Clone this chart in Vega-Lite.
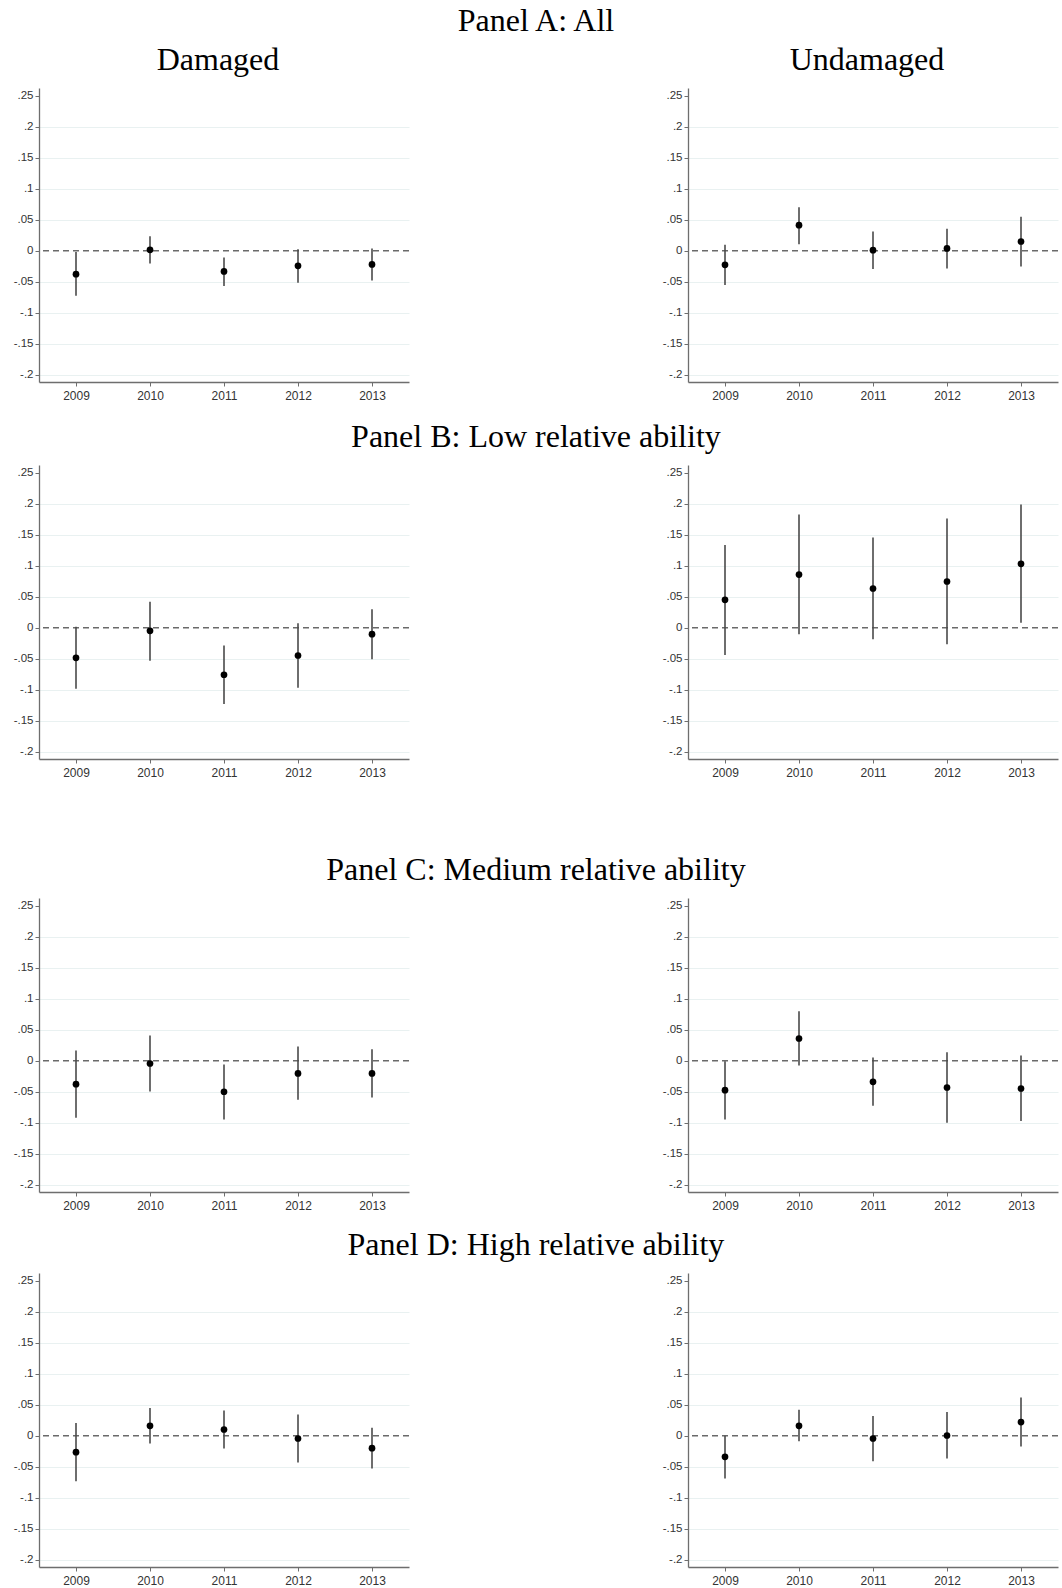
{
  "$schema": "https://vega.github.io/schema/vega-lite/v6.json",
  "padding": {"left": 13, "top": 5, "right": 2, "bottom": 2},
  "background": "white",
  "config": {
    "view": {"stroke": null},
    "title": {"font": "Liberation Serif", "fontSize": 32, "fontWeight": "normal", "color": "#000000"},
    "axis": {
      "labelFont": "Liberation Sans",
      "labelColor": "#333333",
      "domainColor": "#6e6e6e",
      "domainWidth": 1.3,
      "tickColor": "#6e6e6e",
      "tickSize": 4,
      "title": null
    },
    "axisX": {"labelFontSize": 12, "labelPadding": 4, "grid": false},
    "axisY": {"labelFontSize": 11.5, "labelPadding": 2, "grid": true, "gridColor": "#e9f1f1", "gridWidth": 1.2, "labelOverlap": false}
  },
  "datasets": {
    "est": [
      {"panel": "A", "group": "Damaged", "year": 2009, "est": -0.0376, "lo": -0.0725, "hi": -0.002},
      {"panel": "A", "group": "Damaged", "year": 2010, "est": 0.0016, "lo": -0.0204, "hi": 0.0236},
      {"panel": "A", "group": "Damaged", "year": 2011, "est": -0.0333, "lo": -0.0569, "hi": -0.0107},
      {"panel": "A", "group": "Damaged", "year": 2012, "est": -0.0242, "lo": -0.0516, "hi": 0.0027},
      {"panel": "A", "group": "Damaged", "year": 2013, "est": -0.022, "lo": -0.0478, "hi": 0.0038},
      {"panel": "A", "group": "Undamaged", "year": 2009, "est": -0.0226, "lo": -0.0553, "hi": 0.0097},
      {"panel": "A", "group": "Undamaged", "year": 2010, "est": 0.0414, "lo": 0.0107, "hi": 0.0704},
      {"panel": "A", "group": "Undamaged", "year": 2011, "est": 0.001, "lo": -0.0295, "hi": 0.0311},
      {"panel": "A", "group": "Undamaged", "year": 2012, "est": 0.0038, "lo": -0.0285, "hi": 0.0354},
      {"panel": "A", "group": "Undamaged", "year": 2013, "est": 0.015, "lo": -0.0252, "hi": 0.0548},
      {"panel": "B", "group": "Damaged", "year": 2009, "est": -0.0483, "lo": -0.0983, "hi": 0.0016},
      {"panel": "B", "group": "Damaged", "year": 2010, "est": -0.0048, "lo": -0.0532, "hi": 0.0419},
      {"panel": "B", "group": "Damaged", "year": 2011, "est": -0.0757, "lo": -0.123, "hi": -0.0285},
      {"panel": "B", "group": "Damaged", "year": 2012, "est": -0.0446, "lo": -0.0967, "hi": 0.0075},
      {"panel": "B", "group": "Damaged", "year": 2013, "est": -0.0102, "lo": -0.0505, "hi": 0.0301},
      {"panel": "B", "group": "Undamaged", "year": 2009, "est": 0.0451, "lo": -0.044, "hi": 0.1337},
      {"panel": "B", "group": "Undamaged", "year": 2010, "est": 0.0859, "lo": -0.0102, "hi": 0.1826},
      {"panel": "B", "group": "Undamaged", "year": 2011, "est": 0.0634, "lo": -0.0183, "hi": 0.1455},
      {"panel": "B", "group": "Undamaged", "year": 2012, "est": 0.0747, "lo": -0.0263, "hi": 0.1762},
      {"panel": "B", "group": "Undamaged", "year": 2013, "est": 0.1031, "lo": 0.0081, "hi": 0.1987},
      {"panel": "C", "group": "Damaged", "year": 2009, "est": -0.0376, "lo": -0.0918, "hi": 0.0166},
      {"panel": "C", "group": "Damaged", "year": 2010, "est": -0.0043, "lo": -0.0494, "hi": 0.0408},
      {"panel": "C", "group": "Damaged", "year": 2011, "est": -0.0499, "lo": -0.0945, "hi": -0.0059},
      {"panel": "C", "group": "Damaged", "year": 2012, "est": -0.0204, "lo": -0.0628, "hi": 0.0231},
      {"panel": "C", "group": "Damaged", "year": 2013, "est": -0.0204, "lo": -0.0591, "hi": 0.0188},
      {"panel": "C", "group": "Undamaged", "year": 2009, "est": -0.0473, "lo": -0.0945, "hi": -0.0005},
      {"panel": "C", "group": "Undamaged", "year": 2010, "est": 0.036, "lo": -0.0075, "hi": 0.08},
      {"panel": "C", "group": "Undamaged", "year": 2011, "est": -0.0338, "lo": -0.0725, "hi": 0.0054},
      {"panel": "C", "group": "Undamaged", "year": 2012, "est": -0.043, "lo": -0.0999, "hi": 0.014},
      {"panel": "C", "group": "Undamaged", "year": 2013, "est": -0.0446, "lo": -0.0972, "hi": 0.0086},
      {"panel": "D", "group": "Damaged", "year": 2009, "est": -0.0264, "lo": -0.0732, "hi": 0.0205},
      {"panel": "D", "group": "Damaged", "year": 2010, "est": 0.0161, "lo": -0.0124, "hi": 0.0447},
      {"panel": "D", "group": "Damaged", "year": 2011, "est": 0.0102, "lo": -0.0205, "hi": 0.0409},
      {"panel": "D", "group": "Damaged", "year": 2012, "est": -0.0043, "lo": -0.0431, "hi": 0.0344},
      {"panel": "D", "group": "Damaged", "year": 2013, "est": -0.0199, "lo": -0.0527, "hi": 0.0129},
      {"panel": "D", "group": "Undamaged", "year": 2009, "est": -0.0339, "lo": -0.0689, "hi": 0.0},
      {"panel": "D", "group": "Undamaged", "year": 2010, "est": 0.0161, "lo": -0.0086, "hi": 0.042},
      {"panel": "D", "group": "Undamaged", "year": 2011, "est": -0.0043, "lo": -0.0409, "hi": 0.0318},
      {"panel": "D", "group": "Undamaged", "year": 2012, "est": 0.0005, "lo": -0.0366, "hi": 0.0382},
      {"panel": "D", "group": "Undamaged", "year": 2013, "est": 0.0221, "lo": -0.0172, "hi": 0.0619}
    ],
    "zero": [{"ref": 0}]
  },
  "spacing": 76,
  "vconcat": [
    {
      "spacing": 20,
      "vconcat": [
        {
          "title": {"text": "Panel A: All", "anchor": "middle", "frame": "bounds", "offset": 6},
          "spacing": 252,
          "hconcat": [
            {
              "title": {"text": "Damaged", "anchor": "middle", "frame": "group", "dx": -6, "offset": 11},
              "width": 370, "height": 294,
              "layer": [
                {"data": {"name": "zero"}, "mark": {"type": "rule", "color": "#6a6a6a", "strokeWidth": 1.4, "strokeDash": [6, 4]}, "encoding": {"y": {"field": "ref", "type": "quantitative", "scale": {"domain": [-0.2115, 0.2625], "nice": false, "zero": false}, "axis": {"values": [-0.2, -0.15, -0.1, -0.05, 0, 0.05, 0.1, 0.15, 0.2, 0.25], "labelExpr": "datum.value == 0 ? '0' : (datum.value < 0 ? '-' : '') + substring(format(abs(datum.value), '.2~f'), 1)", "gridOpacity": {"condition": {"test": "datum.value > 0.24 || datum.value == 0", "value": 0}, "value": 1}}}}},
                {"data": {"name": "est"}, "transform": [{"filter": "datum.panel == 'A' && datum.group == 'Damaged'"}], "mark": {"type": "rule", "color": "#4a4a4a", "strokeWidth": 1.6}, "encoding": {"x": {"field": "year", "type": "quantitative", "scale": {"domain": [2008.5, 2013.5], "nice": false, "zero": false}, "axis": {"values": [2009, 2010, 2011, 2012, 2013], "format": "d"}}, "y": {"field": "lo", "type": "quantitative", "axis": {"values": [-0.2, -0.15, -0.1, -0.05, 0, 0.05, 0.1, 0.15, 0.2, 0.25], "labelExpr": "datum.value == 0 ? '0' : (datum.value < 0 ? '-' : '') + substring(format(abs(datum.value), '.2~f'), 1)", "gridOpacity": {"condition": {"test": "datum.value > 0.24 || datum.value == 0", "value": 0}, "value": 1}}}, "y2": {"field": "hi"}}},
                {"data": {"name": "est"}, "transform": [{"filter": "datum.panel == 'A' && datum.group == 'Damaged'"}], "mark": {"type": "point", "filled": true, "color": "#000000", "opacity": 1, "size": 45}, "encoding": {"x": {"field": "year", "type": "quantitative", "axis": {"values": [2009, 2010, 2011, 2012, 2013], "format": "d"}}, "y": {"field": "est", "type": "quantitative", "axis": {"values": [-0.2, -0.15, -0.1, -0.05, 0, 0.05, 0.1, 0.15, 0.2, 0.25], "labelExpr": "datum.value == 0 ? '0' : (datum.value < 0 ? '-' : '') + substring(format(abs(datum.value), '.2~f'), 1)", "gridOpacity": {"condition": {"test": "datum.value > 0.24 || datum.value == 0", "value": 0}, "value": 1}}}}}
              ]
            },
            {
              "title": {"text": "Undamaged", "anchor": "middle", "frame": "group", "dx": -6, "offset": 11},
              "width": 370, "height": 294,
              "layer": [
                {"data": {"name": "zero"}, "mark": {"type": "rule", "color": "#6a6a6a", "strokeWidth": 1.4, "strokeDash": [6, 4]}, "encoding": {"y": {"field": "ref", "type": "quantitative", "scale": {"domain": [-0.2115, 0.2625], "nice": false, "zero": false}, "axis": {"values": [-0.2, -0.15, -0.1, -0.05, 0, 0.05, 0.1, 0.15, 0.2, 0.25], "labelExpr": "datum.value == 0 ? '0' : (datum.value < 0 ? '-' : '') + substring(format(abs(datum.value), '.2~f'), 1)", "gridOpacity": {"condition": {"test": "datum.value > 0.24 || datum.value == 0", "value": 0}, "value": 1}}}}},
                {"data": {"name": "est"}, "transform": [{"filter": "datum.panel == 'A' && datum.group == 'Undamaged'"}], "mark": {"type": "rule", "color": "#4a4a4a", "strokeWidth": 1.6}, "encoding": {"x": {"field": "year", "type": "quantitative", "scale": {"domain": [2008.5, 2013.5], "nice": false, "zero": false}, "axis": {"values": [2009, 2010, 2011, 2012, 2013], "format": "d"}}, "y": {"field": "lo", "type": "quantitative", "axis": {"values": [-0.2, -0.15, -0.1, -0.05, 0, 0.05, 0.1, 0.15, 0.2, 0.25], "labelExpr": "datum.value == 0 ? '0' : (datum.value < 0 ? '-' : '') + substring(format(abs(datum.value), '.2~f'), 1)", "gridOpacity": {"condition": {"test": "datum.value > 0.24 || datum.value == 0", "value": 0}, "value": 1}}}, "y2": {"field": "hi"}}},
                {"data": {"name": "est"}, "transform": [{"filter": "datum.panel == 'A' && datum.group == 'Undamaged'"}], "mark": {"type": "point", "filled": true, "color": "#000000", "opacity": 1, "size": 45}, "encoding": {"x": {"field": "year", "type": "quantitative", "axis": {"values": [2009, 2010, 2011, 2012, 2013], "format": "d"}}, "y": {"field": "est", "type": "quantitative", "axis": {"values": [-0.2, -0.15, -0.1, -0.05, 0, 0.05, 0.1, 0.15, 0.2, 0.25], "labelExpr": "datum.value == 0 ? '0' : (datum.value < 0 ? '-' : '') + substring(format(abs(datum.value), '.2~f'), 1)", "gridOpacity": {"condition": {"test": "datum.value > 0.24 || datum.value == 0", "value": 0}, "value": 1}}}}}
              ]
            }
          ]
        },
        {
          "title": {"text": "Panel B: Low relative ability", "anchor": "middle", "frame": "bounds", "offset": 11},
          "spacing": 252,
          "hconcat": [
            {
              "width": 370, "height": 294,
              "layer": [
                {"data": {"name": "zero"}, "mark": {"type": "rule", "color": "#6a6a6a", "strokeWidth": 1.4, "strokeDash": [6, 4]}, "encoding": {"y": {"field": "ref", "type": "quantitative", "scale": {"domain": [-0.2115, 0.2625], "nice": false, "zero": false}, "axis": {"values": [-0.2, -0.15, -0.1, -0.05, 0, 0.05, 0.1, 0.15, 0.2, 0.25], "labelExpr": "datum.value == 0 ? '0' : (datum.value < 0 ? '-' : '') + substring(format(abs(datum.value), '.2~f'), 1)", "gridOpacity": {"condition": {"test": "datum.value > 0.24 || datum.value == 0", "value": 0}, "value": 1}}}}},
                {"data": {"name": "est"}, "transform": [{"filter": "datum.panel == 'B' && datum.group == 'Damaged'"}], "mark": {"type": "rule", "color": "#4a4a4a", "strokeWidth": 1.6}, "encoding": {"x": {"field": "year", "type": "quantitative", "scale": {"domain": [2008.5, 2013.5], "nice": false, "zero": false}, "axis": {"values": [2009, 2010, 2011, 2012, 2013], "format": "d"}}, "y": {"field": "lo", "type": "quantitative", "axis": {"values": [-0.2, -0.15, -0.1, -0.05, 0, 0.05, 0.1, 0.15, 0.2, 0.25], "labelExpr": "datum.value == 0 ? '0' : (datum.value < 0 ? '-' : '') + substring(format(abs(datum.value), '.2~f'), 1)", "gridOpacity": {"condition": {"test": "datum.value > 0.24 || datum.value == 0", "value": 0}, "value": 1}}}, "y2": {"field": "hi"}}},
                {"data": {"name": "est"}, "transform": [{"filter": "datum.panel == 'B' && datum.group == 'Damaged'"}], "mark": {"type": "point", "filled": true, "color": "#000000", "opacity": 1, "size": 45}, "encoding": {"x": {"field": "year", "type": "quantitative", "axis": {"values": [2009, 2010, 2011, 2012, 2013], "format": "d"}}, "y": {"field": "est", "type": "quantitative", "axis": {"values": [-0.2, -0.15, -0.1, -0.05, 0, 0.05, 0.1, 0.15, 0.2, 0.25], "labelExpr": "datum.value == 0 ? '0' : (datum.value < 0 ? '-' : '') + substring(format(abs(datum.value), '.2~f'), 1)", "gridOpacity": {"condition": {"test": "datum.value > 0.24 || datum.value == 0", "value": 0}, "value": 1}}}}}
              ]
            },
            {
              "width": 370, "height": 294,
              "layer": [
                {"data": {"name": "zero"}, "mark": {"type": "rule", "color": "#6a6a6a", "strokeWidth": 1.4, "strokeDash": [6, 4]}, "encoding": {"y": {"field": "ref", "type": "quantitative", "scale": {"domain": [-0.2115, 0.2625], "nice": false, "zero": false}, "axis": {"values": [-0.2, -0.15, -0.1, -0.05, 0, 0.05, 0.1, 0.15, 0.2, 0.25], "labelExpr": "datum.value == 0 ? '0' : (datum.value < 0 ? '-' : '') + substring(format(abs(datum.value), '.2~f'), 1)", "gridOpacity": {"condition": {"test": "datum.value > 0.24 || datum.value == 0", "value": 0}, "value": 1}}}}},
                {"data": {"name": "est"}, "transform": [{"filter": "datum.panel == 'B' && datum.group == 'Undamaged'"}], "mark": {"type": "rule", "color": "#4a4a4a", "strokeWidth": 1.6}, "encoding": {"x": {"field": "year", "type": "quantitative", "scale": {"domain": [2008.5, 2013.5], "nice": false, "zero": false}, "axis": {"values": [2009, 2010, 2011, 2012, 2013], "format": "d"}}, "y": {"field": "lo", "type": "quantitative", "axis": {"values": [-0.2, -0.15, -0.1, -0.05, 0, 0.05, 0.1, 0.15, 0.2, 0.25], "labelExpr": "datum.value == 0 ? '0' : (datum.value < 0 ? '-' : '') + substring(format(abs(datum.value), '.2~f'), 1)", "gridOpacity": {"condition": {"test": "datum.value > 0.24 || datum.value == 0", "value": 0}, "value": 1}}}, "y2": {"field": "hi"}}},
                {"data": {"name": "est"}, "transform": [{"filter": "datum.panel == 'B' && datum.group == 'Undamaged'"}], "mark": {"type": "point", "filled": true, "color": "#000000", "opacity": 1, "size": 45}, "encoding": {"x": {"field": "year", "type": "quantitative", "axis": {"values": [2009, 2010, 2011, 2012, 2013], "format": "d"}}, "y": {"field": "est", "type": "quantitative", "axis": {"values": [-0.2, -0.15, -0.1, -0.05, 0, 0.05, 0.1, 0.15, 0.2, 0.25], "labelExpr": "datum.value == 0 ? '0' : (datum.value < 0 ? '-' : '') + substring(format(abs(datum.value), '.2~f'), 1)", "gridOpacity": {"condition": {"test": "datum.value > 0.24 || datum.value == 0", "value": 0}, "value": 1}}}}}
              ]
            }
          ]
        }
      ]
    },
    {
      "spacing": 18,
      "vconcat": [
        {
          "title": {"text": "Panel C: Medium relative ability", "anchor": "middle", "frame": "bounds", "offset": 11},
          "spacing": 252,
          "hconcat": [
            {
              "width": 370, "height": 294,
              "layer": [
                {"data": {"name": "zero"}, "mark": {"type": "rule", "color": "#6a6a6a", "strokeWidth": 1.4, "strokeDash": [6, 4]}, "encoding": {"y": {"field": "ref", "type": "quantitative", "scale": {"domain": [-0.2115, 0.2625], "nice": false, "zero": false}, "axis": {"values": [-0.2, -0.15, -0.1, -0.05, 0, 0.05, 0.1, 0.15, 0.2, 0.25], "labelExpr": "datum.value == 0 ? '0' : (datum.value < 0 ? '-' : '') + substring(format(abs(datum.value), '.2~f'), 1)", "gridOpacity": {"condition": {"test": "datum.value > 0.24 || datum.value == 0", "value": 0}, "value": 1}}}}},
                {"data": {"name": "est"}, "transform": [{"filter": "datum.panel == 'C' && datum.group == 'Damaged'"}], "mark": {"type": "rule", "color": "#4a4a4a", "strokeWidth": 1.6}, "encoding": {"x": {"field": "year", "type": "quantitative", "scale": {"domain": [2008.5, 2013.5], "nice": false, "zero": false}, "axis": {"values": [2009, 2010, 2011, 2012, 2013], "format": "d"}}, "y": {"field": "lo", "type": "quantitative", "axis": {"values": [-0.2, -0.15, -0.1, -0.05, 0, 0.05, 0.1, 0.15, 0.2, 0.25], "labelExpr": "datum.value == 0 ? '0' : (datum.value < 0 ? '-' : '') + substring(format(abs(datum.value), '.2~f'), 1)", "gridOpacity": {"condition": {"test": "datum.value > 0.24 || datum.value == 0", "value": 0}, "value": 1}}}, "y2": {"field": "hi"}}},
                {"data": {"name": "est"}, "transform": [{"filter": "datum.panel == 'C' && datum.group == 'Damaged'"}], "mark": {"type": "point", "filled": true, "color": "#000000", "opacity": 1, "size": 45}, "encoding": {"x": {"field": "year", "type": "quantitative", "axis": {"values": [2009, 2010, 2011, 2012, 2013], "format": "d"}}, "y": {"field": "est", "type": "quantitative", "axis": {"values": [-0.2, -0.15, -0.1, -0.05, 0, 0.05, 0.1, 0.15, 0.2, 0.25], "labelExpr": "datum.value == 0 ? '0' : (datum.value < 0 ? '-' : '') + substring(format(abs(datum.value), '.2~f'), 1)", "gridOpacity": {"condition": {"test": "datum.value > 0.24 || datum.value == 0", "value": 0}, "value": 1}}}}}
              ]
            },
            {
              "width": 370, "height": 294,
              "layer": [
                {"data": {"name": "zero"}, "mark": {"type": "rule", "color": "#6a6a6a", "strokeWidth": 1.4, "strokeDash": [6, 4]}, "encoding": {"y": {"field": "ref", "type": "quantitative", "scale": {"domain": [-0.2115, 0.2625], "nice": false, "zero": false}, "axis": {"values": [-0.2, -0.15, -0.1, -0.05, 0, 0.05, 0.1, 0.15, 0.2, 0.25], "labelExpr": "datum.value == 0 ? '0' : (datum.value < 0 ? '-' : '') + substring(format(abs(datum.value), '.2~f'), 1)", "gridOpacity": {"condition": {"test": "datum.value > 0.24 || datum.value == 0", "value": 0}, "value": 1}}}}},
                {"data": {"name": "est"}, "transform": [{"filter": "datum.panel == 'C' && datum.group == 'Undamaged'"}], "mark": {"type": "rule", "color": "#4a4a4a", "strokeWidth": 1.6}, "encoding": {"x": {"field": "year", "type": "quantitative", "scale": {"domain": [2008.5, 2013.5], "nice": false, "zero": false}, "axis": {"values": [2009, 2010, 2011, 2012, 2013], "format": "d"}}, "y": {"field": "lo", "type": "quantitative", "axis": {"values": [-0.2, -0.15, -0.1, -0.05, 0, 0.05, 0.1, 0.15, 0.2, 0.25], "labelExpr": "datum.value == 0 ? '0' : (datum.value < 0 ? '-' : '') + substring(format(abs(datum.value), '.2~f'), 1)", "gridOpacity": {"condition": {"test": "datum.value > 0.24 || datum.value == 0", "value": 0}, "value": 1}}}, "y2": {"field": "hi"}}},
                {"data": {"name": "est"}, "transform": [{"filter": "datum.panel == 'C' && datum.group == 'Undamaged'"}], "mark": {"type": "point", "filled": true, "color": "#000000", "opacity": 1, "size": 45}, "encoding": {"x": {"field": "year", "type": "quantitative", "axis": {"values": [2009, 2010, 2011, 2012, 2013], "format": "d"}}, "y": {"field": "est", "type": "quantitative", "axis": {"values": [-0.2, -0.15, -0.1, -0.05, 0, 0.05, 0.1, 0.15, 0.2, 0.25], "labelExpr": "datum.value == 0 ? '0' : (datum.value < 0 ? '-' : '') + substring(format(abs(datum.value), '.2~f'), 1)", "gridOpacity": {"condition": {"test": "datum.value > 0.24 || datum.value == 0", "value": 0}, "value": 1}}}}}
              ]
            }
          ]
        },
        {
          "title": {"text": "Panel D: High relative ability", "anchor": "middle", "frame": "bounds", "offset": 11},
          "spacing": 252,
          "hconcat": [
            {
              "width": 370, "height": 294,
              "layer": [
                {"data": {"name": "zero"}, "mark": {"type": "rule", "color": "#6a6a6a", "strokeWidth": 1.4, "strokeDash": [6, 4]}, "encoding": {"y": {"field": "ref", "type": "quantitative", "scale": {"domain": [-0.2115, 0.2625], "nice": false, "zero": false}, "axis": {"values": [-0.2, -0.15, -0.1, -0.05, 0, 0.05, 0.1, 0.15, 0.2, 0.25], "labelExpr": "datum.value == 0 ? '0' : (datum.value < 0 ? '-' : '') + substring(format(abs(datum.value), '.2~f'), 1)", "gridOpacity": {"condition": {"test": "datum.value > 0.24 || datum.value == 0", "value": 0}, "value": 1}}}}},
                {"data": {"name": "est"}, "transform": [{"filter": "datum.panel == 'D' && datum.group == 'Damaged'"}], "mark": {"type": "rule", "color": "#4a4a4a", "strokeWidth": 1.6}, "encoding": {"x": {"field": "year", "type": "quantitative", "scale": {"domain": [2008.5, 2013.5], "nice": false, "zero": false}, "axis": {"values": [2009, 2010, 2011, 2012, 2013], "format": "d"}}, "y": {"field": "lo", "type": "quantitative", "axis": {"values": [-0.2, -0.15, -0.1, -0.05, 0, 0.05, 0.1, 0.15, 0.2, 0.25], "labelExpr": "datum.value == 0 ? '0' : (datum.value < 0 ? '-' : '') + substring(format(abs(datum.value), '.2~f'), 1)", "gridOpacity": {"condition": {"test": "datum.value > 0.24 || datum.value == 0", "value": 0}, "value": 1}}}, "y2": {"field": "hi"}}},
                {"data": {"name": "est"}, "transform": [{"filter": "datum.panel == 'D' && datum.group == 'Damaged'"}], "mark": {"type": "point", "filled": true, "color": "#000000", "opacity": 1, "size": 45}, "encoding": {"x": {"field": "year", "type": "quantitative", "axis": {"values": [2009, 2010, 2011, 2012, 2013], "format": "d"}}, "y": {"field": "est", "type": "quantitative", "axis": {"values": [-0.2, -0.15, -0.1, -0.05, 0, 0.05, 0.1, 0.15, 0.2, 0.25], "labelExpr": "datum.value == 0 ? '0' : (datum.value < 0 ? '-' : '') + substring(format(abs(datum.value), '.2~f'), 1)", "gridOpacity": {"condition": {"test": "datum.value > 0.24 || datum.value == 0", "value": 0}, "value": 1}}}}}
              ]
            },
            {
              "width": 370, "height": 294,
              "layer": [
                {"data": {"name": "zero"}, "mark": {"type": "rule", "color": "#6a6a6a", "strokeWidth": 1.4, "strokeDash": [6, 4]}, "encoding": {"y": {"field": "ref", "type": "quantitative", "scale": {"domain": [-0.2115, 0.2625], "nice": false, "zero": false}, "axis": {"values": [-0.2, -0.15, -0.1, -0.05, 0, 0.05, 0.1, 0.15, 0.2, 0.25], "labelExpr": "datum.value == 0 ? '0' : (datum.value < 0 ? '-' : '') + substring(format(abs(datum.value), '.2~f'), 1)", "gridOpacity": {"condition": {"test": "datum.value > 0.24 || datum.value == 0", "value": 0}, "value": 1}}}}},
                {"data": {"name": "est"}, "transform": [{"filter": "datum.panel == 'D' && datum.group == 'Undamaged'"}], "mark": {"type": "rule", "color": "#4a4a4a", "strokeWidth": 1.6}, "encoding": {"x": {"field": "year", "type": "quantitative", "scale": {"domain": [2008.5, 2013.5], "nice": false, "zero": false}, "axis": {"values": [2009, 2010, 2011, 2012, 2013], "format": "d"}}, "y": {"field": "lo", "type": "quantitative", "axis": {"values": [-0.2, -0.15, -0.1, -0.05, 0, 0.05, 0.1, 0.15, 0.2, 0.25], "labelExpr": "datum.value == 0 ? '0' : (datum.value < 0 ? '-' : '') + substring(format(abs(datum.value), '.2~f'), 1)", "gridOpacity": {"condition": {"test": "datum.value > 0.24 || datum.value == 0", "value": 0}, "value": 1}}}, "y2": {"field": "hi"}}},
                {"data": {"name": "est"}, "transform": [{"filter": "datum.panel == 'D' && datum.group == 'Undamaged'"}], "mark": {"type": "point", "filled": true, "color": "#000000", "opacity": 1, "size": 45}, "encoding": {"x": {"field": "year", "type": "quantitative", "axis": {"values": [2009, 2010, 2011, 2012, 2013], "format": "d"}}, "y": {"field": "est", "type": "quantitative", "axis": {"values": [-0.2, -0.15, -0.1, -0.05, 0, 0.05, 0.1, 0.15, 0.2, 0.25], "labelExpr": "datum.value == 0 ? '0' : (datum.value < 0 ? '-' : '') + substring(format(abs(datum.value), '.2~f'), 1)", "gridOpacity": {"condition": {"test": "datum.value > 0.24 || datum.value == 0", "value": 0}, "value": 1}}}}}
              ]
            }
          ]
        }
      ]
    }
  ]
}
